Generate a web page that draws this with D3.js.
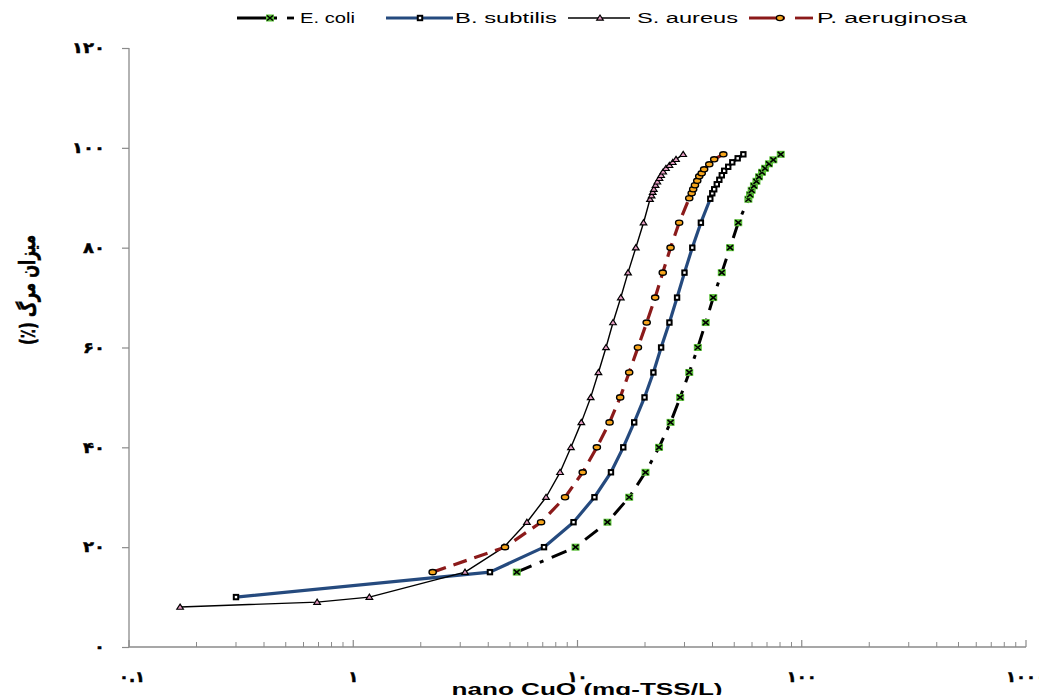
<!DOCTYPE html>
<html><head><meta charset="utf-8">
<script src="https://cdn.jsdelivr.net/npm/d3@7/dist/d3.min.js"></script>
<style>body{margin:0;background:#fff;overflow:hidden}</style>
</head><body><svg id="c" width="1039" height="695"></svg>
<script>
// ---- data ----
const seriesNames = ["E. coli", "B. subtilis", "S. aureus", "P. aeruginosa"];
const ecoliX = [5.36, 9.80, 13.6, 17.0, 20.1, 23.1, 26.0, 28.7, 31.5, 34.4, 37.3, 40.3, 44.0, 47.9, 52.1, 57.8, 58.8, 59.8, 61.2, 62.8, 64.5, 66.5, 68.6, 71.4, 74.7, 80.6];
const ecoliY = [15, 20, 25, 30, 35, 40, 45, 50, 55, 60, 65, 70, 75, 80, 85, 89.7, 90.6, 91.5, 92.4, 93.3, 94.2, 95.1, 95.9, 96.8, 97.6, 98.7];
const bsubX = [0.30, 4.07, 7.09, 9.60, 11.9, 14.1, 16.0, 17.9, 19.9, 21.8, 23.6, 25.7, 27.8, 30.0, 32.5, 35.5, 39.1, 39.9, 40.7, 41.8, 42.9, 44.0, 45.1, 47.0, 49.0, 51.8, 54.9];
const bsubY = [10, 15, 20, 25, 30, 35, 40, 45, 50, 55, 60, 65, 70, 75, 80, 85, 89.8, 90.9, 91.7, 92.7, 93.6, 94.5, 95.4, 96.2, 97.1, 97.9, 98.7];
const saurX = [0.169, 0.69, 1.18, 3.15, 4.70, 5.95, 7.24, 8.36, 9.35, 10.4, 11.45, 12.4, 13.4, 14.4, 15.6, 16.8, 18.2, 19.7, 21.05, 21.4, 21.65, 21.9, 22.3, 22.7, 23.2, 23.6, 24.1, 24.8, 25.7, 26.6, 27.5, 29.6];
const saurY = [8, 9, 10, 15, 20, 25, 30, 35, 40, 45, 50, 55, 60, 65, 70, 75, 80, 85, 89.7, 90.4, 91.1, 91.7, 92.5, 93.2, 93.9, 94.5, 95.2, 95.9, 96.5, 97.1, 97.7, 98.7];
const paerX = [2.26, 4.75, 6.88, 8.80, 10.55, 12.2, 13.9, 15.5, 17.0, 18.6, 20.35, 22.2, 24.0, 26.0, 28.4, 31.5, 32.3, 32.8, 33.4, 34.2, 34.9, 35.8, 36.7, 38.7, 40.7, 44.7];
const paerY = [15, 20, 25, 30, 35, 40, 45, 50, 55, 60, 65, 70, 75, 80, 85, 89.9, 90.9, 91.7, 92.5, 93.4, 94.3, 94.9, 95.7, 96.7, 97.7, 98.7];
const yTicks = [0, 20, 40, 60, 80, 100, 120];
const yTickLabels = ["۰", "۲۰", "۴۰", "۶۰", "۸۰", "۱۰۰", "۱۲۰"];
const xTicks = [0.1, 1, 10, 100, 1000];
const xTickLabels = ["۰.۱", "۱", "۱۰", "۱۰۰", "۱۰۰۰"];
const xTitle = "nano CuO (mg-TSS/L)";
const yTitle = "میزان مرگ (٪)";

// ---- setup ----
const svg = d3.select("#c");
const x = d3.scaleLog().domain([0.1, 1000]).range([129, 1026]);
const y = d3.scaleLinear().domain([0, 120]).range([647, 48]);
const axisColor = "#8a8a8a";

// y axis
const yAxis = svg.append("g").attr("transform", "translate(129,0)")
  .call(d3.axisLeft(y).tickValues(yTicks).tickSize(7).tickFormat((d, i) => yTickLabels[i]));
yAxis.select(".domain").attr("stroke", axisColor).attr("stroke-width", 1.3).attr("d", "M0,48V647");
yAxis.selectAll(".tick line").attr("stroke", axisColor).attr("stroke-width", 1.2);
yAxis.selectAll(".tick text").attr("x", -24).attr("font-family", "DejaVu Sans").attr("font-weight", "bold")
  .attr("font-size", 15).attr("fill", "#000").attr("dy", "0.32em").attr("stroke", "#000").attr("stroke-width", 0.5)
  .attr("textLength", (d, i) => yTickLabels[i].length * 11).attr("lengthAdjust", "spacingAndGlyphs");

// x axis with minor ticks (inward)
const minor = [];
for (let e = -1; e < 3; e++) for (let m = 2; m <= 9; m++) minor.push(m * Math.pow(10, e));
const xg = svg.append("g");
xg.append("line").attr("x1", 129).attr("x2", 1026).attr("y1", 647).attr("y2", 647)
  .attr("stroke", axisColor).attr("stroke-width", 1.3);
xg.selectAll("line.mn").data(minor).join("line").attr("class", "mn")
  .attr("x1", d => x(d)).attr("x2", d => x(d)).attr("y1", 647).attr("y2", 642)
  .attr("stroke", axisColor).attr("stroke-width", 1);
xg.selectAll("line.mj").data(xTicks).join("line").attr("class", "mj")
  .attr("x1", d => x(d)).attr("x2", d => x(d)).attr("y1", 647).attr("y2", 640)
  .attr("stroke", axisColor).attr("stroke-width", 1.2);
xg.selectAll("text").data(xTicks).join("text")
  .attr("x", (d, i) => x(d) + (i === 0 ? 3 : 0)).attr("y", 682).attr("text-anchor", "middle")
  .attr("font-family", "DejaVu Sans").attr("font-weight", "bold").attr("font-size", 15)
  .attr("stroke", "#000").attr("stroke-width", 0.5)
  .attr("textLength", (d, i) => xTickLabels[i].replace(".", "").length * 10 + (xTickLabels[i].includes(".") ? 6 : 0))
  .attr("lengthAdjust", "spacingAndGlyphs")
  .text((d, i) => xTickLabels[i]);

// titles
svg.append("text").attr("x", 587).attr("y", 695).attr("text-anchor", "middle")
  .attr("font-family", "Liberation Sans, Arial").attr("font-weight", "bold").attr("font-size", 16)
  .attr("textLength", 271).attr("lengthAdjust", "spacingAndGlyphs").text(xTitle);
svg.append("text").attr("transform", "translate(35,290) rotate(-90)").attr("text-anchor", "middle")
  .attr("direction", "rtl")
  .attr("font-family", "DejaVu Sans").attr("font-weight", "bold").attr("font-size", 22)
  .attr("stroke", "#000").attr("stroke-width", 0.6)
  .attr("textLength", 110).attr("lengthAdjust", "spacingAndGlyphs").text(yTitle);

// ---- markers ----
function drawMarker(g, kind, cx, cy) {
  if (kind === 0) {
    g.append("rect").attr("x", cx - 4).attr("y", cy - 3.5).attr("width", 8).attr("height", 7).attr("fill", "#5cc23a");
    g.append("path").attr("d", `M${cx - 3},${cy - 2.5}L${cx + 3},${cy + 2.5}M${cx - 3},${cy + 2.5}L${cx + 3},${cy - 2.5}`)
      .attr("stroke", "#000").attr("stroke-width", 1.6);
  } else if (kind === 1) {
    g.append("rect").attr("x", cx - 2.2).attr("y", cy - 2.2).attr("width", 4.4).attr("height", 4.4)
      .attr("fill", "#fff").attr("stroke", "#000").attr("stroke-width", 2);
  } else if (kind === 2) {
    g.append("path").attr("d", `M${cx},${cy - 3}L${cx + 3.3},${cy + 2.2}L${cx - 3.3},${cy + 2.2}Z`)
      .attr("fill", "#e29ac0").attr("stroke", "#000").attr("stroke-width", 1.2);
  } else {
    g.append("ellipse").attr("cx", cx).attr("cy", cy).attr("rx", 3.6).attr("ry", 2.6)
      .attr("fill", "#f7a51c").attr("stroke", "#000").attr("stroke-width", 1.4);
  }
}

const styles = [
  { color: "#000", width: 3, dash: "16,9,4,9" },
  { color: "#254a7e", width: 3.2, dash: null },
  { color: "#000", width: 1.4, dash: null },
  { color: "#8b1a1a", width: 3.2, dash: "14,8" }
];
const seriesX = [ecoliX, bsubX, saurX, paerX];
const seriesY = [ecoliY, bsubY, saurY, paerY];
const line = d3.line().x(d => x(d[0])).y(d => y(d[1])).curve(d3.curveLinear);

seriesNames.forEach((name, i) => {
  const pts = seriesX[i].map((v, j) => [v, seriesY[i][j]]);
  const g = svg.append("g");
  g.append("path").attr("d", line(pts)).attr("fill", "none")
    .attr("stroke", styles[i].color).attr("stroke-width", styles[i].width)
    .attr("stroke-dasharray", styles[i].dash).attr("stroke-linejoin", "round");
  pts.forEach(p => drawMarker(g, i, x(p[0]), y(p[1])));
});

// ---- legend ----
const leg = svg.append("g");
const ly = 18;
const legendLayout = [
  { segs: [[237, 277], [287, 294]], mk: 270, tx: 300, tw: 55 },
  { segs: [[386, 453]], mk: 420, tx: 455, tw: 102 },
  { segs: [[568, 630]], mk: 600, tx: 637, tw: 101 },
  { segs: [[749, 785], [795, 813]], mk: 780, tx: 817, tw: 150 }
];
legendLayout.forEach((L, i) => {
  L.segs.forEach(s => leg.append("line").attr("x1", s[0]).attr("x2", s[1]).attr("y1", ly).attr("y2", ly)
    .attr("stroke", styles[i].color).attr("stroke-width", i === 2 ? 1.3 : 2.8));
  drawMarker(leg, i, L.mk, ly);
  leg.append("text").attr("x", L.tx).attr("y", ly + 5).attr("font-family", "Liberation Sans, Arial")
    .attr("font-size", 14).attr("textLength", L.tw).attr("lengthAdjust", "spacingAndGlyphs").text(seriesNames[i]);
});
</script></body></html>
